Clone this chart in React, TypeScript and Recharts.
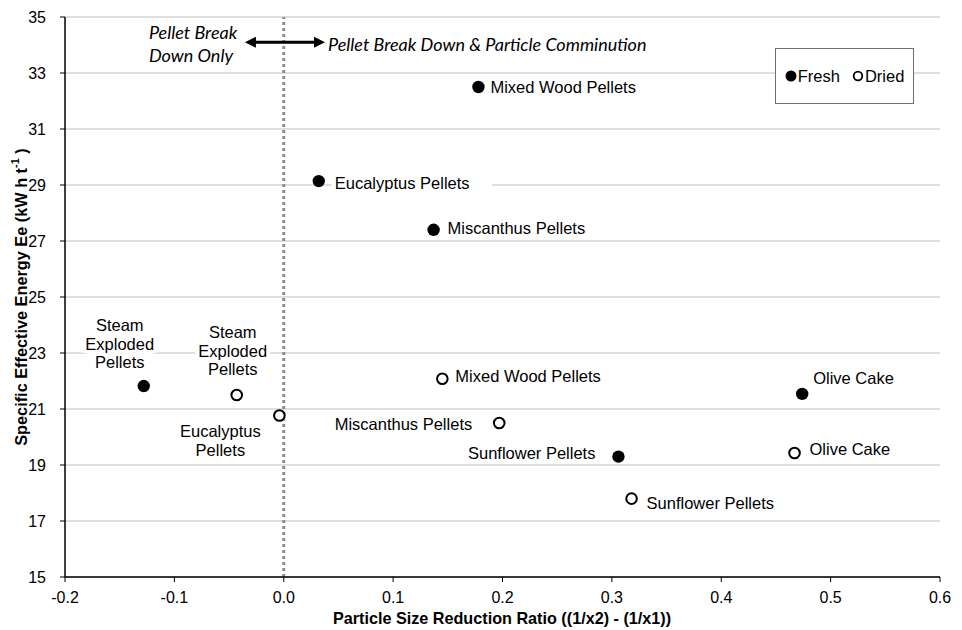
import React from "react";
import {
  ScatterChart,
  Scatter,
  XAxis,
  YAxis,
  CartesianGrid,
  ReferenceLine,
  Legend,
} from "recharts";

// ---------- data ----------
const freshNames = [
  "Mixed Wood Pellets",
  "Eucalyptus Pellets",
  "Miscanthus Pellets",
  "Steam Exploded Pellets",
  "Sunflower Pellets",
  "Olive Cake",
];
const freshX = [0.178, 0.032, 0.137, -0.128, 0.306, 0.474];
const freshY = [32.5, 29.14, 27.4, 21.82, 19.3, 21.54];

const driedNames = [
  "Steam Exploded Pellets",
  "Eucalyptus Pellets",
  "Mixed Wood Pellets",
  "Miscanthus Pellets",
  "Sunflower Pellets",
  "Olive Cake",
];
const driedX = [-0.043, -0.004, 0.145, 0.197, 0.318, 0.467];
const driedY = [21.5, 20.77, 22.08, 20.5, 17.8, 19.43];

const xTicks = [-0.2, -0.1, 0, 0.1, 0.2, 0.3, 0.4, 0.5, 0.6];
const yTicks = [15, 17, 19, 21, 23, 25, 27, 29, 31, 33, 35];
const seriesNames = ["Fresh", "Dried"];

const arrowSegment = [
  { x: -0.0355, y: 34.1 },
  { x: 0.0377, y: 34.1 },
];
const leftNote = ["Pellet Break", "Down Only"];
const rightNote = "Pellet Break Down & Particle Comminution";

const freshData = freshNames.map((name, i) => ({ name, x: freshX[i], y: freshY[i] }));
const driedData = driedNames.map((name, i) => ({ name, x: driedX[i], y: driedY[i] }));

// ---------- label layout (pixel offsets from point) ----------
type Lay = { anchor: "start" | "middle" | "end"; dx: number; dy: number; wrap?: boolean };
const layout: Record<string, Lay> = {
  "Fresh:Mixed Wood Pellets": { anchor: "start", dx: 12, dy: 0 },
  "Fresh:Eucalyptus Pellets": { anchor: "start", dx: 16, dy: 2 },
  "Fresh:Miscanthus Pellets": { anchor: "start", dx: 14, dy: -2 },
  "Fresh:Steam Exploded Pellets": { anchor: "middle", dx: -24, dy: -61, wrap: true },
  "Fresh:Sunflower Pellets": { anchor: "end", dx: -23, dy: -4 },
  "Fresh:Olive Cake": { anchor: "start", dx: 11, dy: -16 },
  "Dried:Steam Exploded Pellets": { anchor: "middle", dx: -4, dy: -63, wrap: true },
  "Dried:Eucalyptus Pellets": { anchor: "middle", dx: -59, dy: 16, wrap: true },
  "Dried:Mixed Wood Pellets": { anchor: "start", dx: 13, dy: -3 },
  "Dried:Miscanthus Pellets": { anchor: "end", dx: -27, dy: 1 },
  "Dried:Sunflower Pellets": { anchor: "start", dx: 15, dy: 4 },
  "Dried:Olive Cake": { anchor: "start", dx: 15, dy: -4 },
};

const FONT = "'Liberation Sans', Arial, sans-serif";
const NOTE_FONT = "Lato, 'Open Sans', sans-serif";
const FS = 16.5;
const LH = 18.7;

const makeShape = (series: string) => (props: any) => {
  const { cx, cy, payload } = props;
  const lay = layout[series + ":" + payload.name];
  const lines: string[] = lay && lay.wrap ? payload.name.split(" ") : [payload.name];
  return (
    <g>
      {lay &&
        lines.map((l, i) => {
          const tx = cx + lay.dx;
          const ty = cy + lay.dy + i * LH;
          const w = l.length * FS * 0.52 + 6;
          const rx = lay.anchor === "start" ? tx - 3 : lay.anchor === "middle" ? tx - w / 2 : tx - w + 3;
          return (
            <g key={i}>
              <rect x={rx} y={ty - LH / 2} width={w} height={LH} fill="#fff" />
              <text
                x={tx}
                y={ty}
                textAnchor={lay.anchor}
                dominantBaseline="central"
                fontFamily={FONT}
                fontSize={FS}
                fill="#000"
              >
                {l}
              </text>
            </g>
          );
        })}
      {series === "Fresh" ? (
        <circle cx={cx} cy={cy} r={6.2} fill="#000" />
      ) : (
        <circle cx={cx} cy={cy} r={5.3} fill="#fff" stroke="#000" strokeWidth={2} />
      )}
    </g>
  );
};

const ArrowShape = (props: any) => {
  const { x1, y1, x2, y2 } = props;
  const h = 11;
  const w = 5.5;
  const nf = { fontFamily: NOTE_FONT, fontStyle: "italic", fontSize: 18, fill: "#000" } as const;
  return (
    <g>
      <line x1={x1 + h - 1} y1={y1} x2={x2 - h + 1} y2={y2} stroke="#000" strokeWidth={3} />
      <polygon points={`${x1},${y1} ${x1 + h},${y1 - w} ${x1 + h},${y1 + w}`} fill="#000" />
      <polygon points={`${x2},${y2} ${x2 - h},${y2 - w} ${x2 - h},${y2 + w}`} fill="#000" />
      <text x={x1 - 96} y={y1 - 10} dominantBaseline="central" {...nf}>
        {leftNote[0]}
      </text>
      <text x={x1 - 96} y={y1 + 13} dominantBaseline="central" {...nf}>
        {leftNote[1]}
      </text>
      <text x={x2 + 3} y={y2 + 2} dominantBaseline="central" {...nf}>
        {rightNote}
      </text>
    </g>
  );
};

const YTitle = () => (
  <text
    x={13}
    y={289}
    transform="rotate(-90 13 289)"
    textAnchor="middle"
    dominantBaseline="central"
    fontFamily={FONT}
    fontSize={16.3}
    fontWeight="bold"
    fill="#000"
  >
    Specific Effective Energy Ee (kW h t
    <tspan dy={-6} fontSize={11}>-1</tspan>
    <tspan dy={6}> )</tspan>
  </text>
);

const XTitle = () => (
  <text
    x={494}
    y={610}
    textAnchor="middle"
    dominantBaseline="central"
    fontFamily={FONT}
    fontSize={16.2}
    fontWeight="bold"
    fill="#000"
  >
    Particle Size Reduction Ratio ((1/x2) - (1/x1))
  </text>
);

const LegendBox = () => (
  <div
    style={{
      width: 139,
      height: 56,
      boxSizing: "border-box",
      border: "1px solid #6f6f6f",
      background: "#fff",
      display: "flex",
      alignItems: "center",
      justifyContent: "center",
      fontFamily: FONT,
      fontSize: 16.5,
      color: "#000",
    }}
  >
    <svg width={12} height={12} style={{ marginRight: 1 }}>
      <circle cx={6} cy={6} r={5.5} fill="#000" />
    </svg>
    <span style={{ marginRight: 12 }}>{seriesNames[0]}</span>
    <svg width={12} height={12} style={{ marginRight: 1 }}>
      <circle cx={6} cy={6} r={4.3} fill="#fff" stroke="#000" strokeWidth={1.8} />
    </svg>
    <span>{seriesNames[1]}</span>
  </div>
);

export default function App() {
  return (
    <div style={{ width: 954, height: 622, position: "relative" }}>
      <ScatterChart width={954} height={622} margin={{ top: 9, right: 22, bottom: 0, left: 0 }}>
        <CartesianGrid horizontal vertical={false} stroke="#c0c0c0" strokeWidth={1} />
        <XAxis
          type="number"
          dataKey="x"
          domain={[-0.2, 0.6]}
          ticks={xTicks}
          tickFormatter={(v: number) => v.toFixed(1)}
          height={53}
          axisLine={{ stroke: "#000", strokeWidth: 1.5 }}
          tickLine={{ stroke: "#000" }}
          tickSize={5}
          tickMargin={10}
          tick={{ fontFamily: FONT, fontSize: 16, fill: "#000" }}
          interval={0}
          label={{ content: XTitle }}
        />
        <YAxis
          type="number"
          dataKey="y"
          domain={[15, 35]}
          ticks={yTicks}
          width={57}
          axisLine={{ stroke: "#000", strokeWidth: 1.5 }}
          tickLine={{ stroke: "#000" }}
          tickSize={5}
          tickMargin={10}
          tick={{ fontFamily: FONT, fontSize: 16, fill: "#000", dx: -4 }}
          interval={0}
          label={{ content: YTitle }}
        />
        <ReferenceLine x={0} stroke="#8c8c8c" strokeWidth={3} strokeDasharray="3 3" />
        <ReferenceLine segment={arrowSegment} shape={ArrowShape} />
        <Scatter name="Fresh" data={freshData} shape={makeShape("Fresh")} isAnimationActive={false} />
        <Scatter name="Dried" data={driedData} shape={makeShape("Dried")} isAnimationActive={false} />
        <Legend
          layout="horizontal"
          verticalAlign="middle"
          align="center"
          content={LegendBox}
          wrapperStyle={{ position: "absolute", left: 767, top: 40, width: 139, height: 56 }}
        />
      </ScatterChart>
    </div>
  );
}
